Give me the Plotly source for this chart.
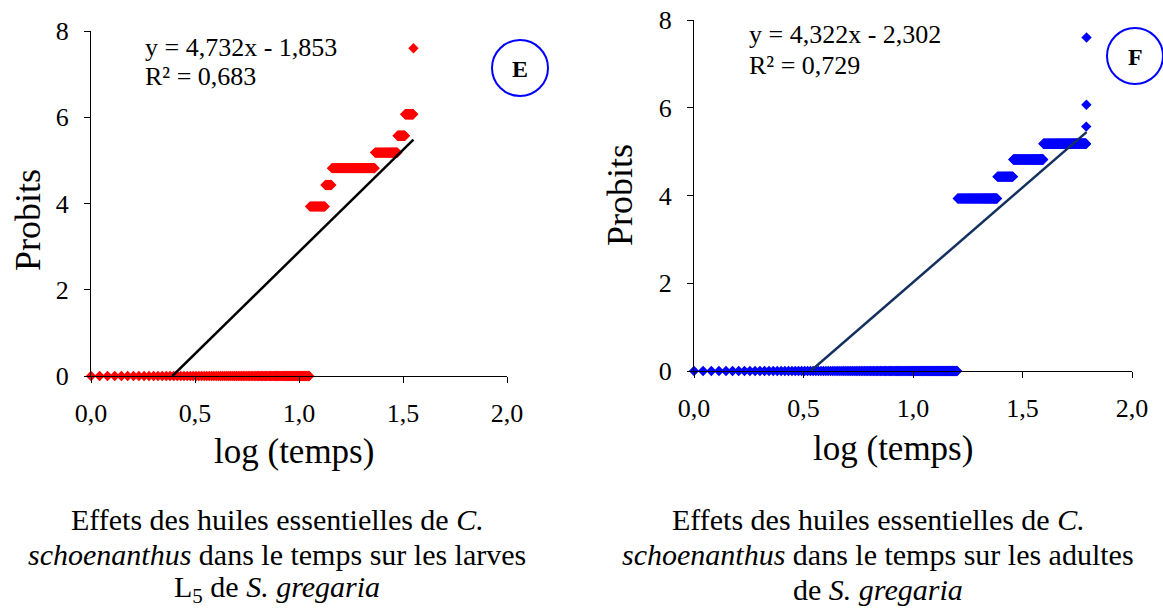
import numpy as np
import plotly.graph_objects as go

# ---- Data ----
# Panel E: runs of observations recorded every 0.1 time unit, with their probit level
E_run_start = [1.0, 11.3, 13.4, 14.4, 23.2, 29.8, 32.4, 35.5]
E_run_end   = [11.2, 13.3, 14.3, 23.1, 29.7, 32.3, 35.4, 35.5]
E_probit    = [0.0, 3.93, 4.43, 4.82, 5.18, 5.57, 6.07, 7.6]
E_slope, E_intercept, E_r2 = 4.732, -1.853, 0.683

# Panel F
F_run_start = [1.0, 16.0, 24.3, 28.7, 39.4, 61.8, 61.9, 62.0]
F_run_end   = [15.9, 24.2, 28.6, 39.3, 61.7, 61.8, 61.9, 62.0]
F_probit    = [0.0, 3.93, 4.43, 4.82, 5.18, 5.57, 6.07, 7.6]
F_slope, F_intercept, F_r2 = 4.322, -2.302, 0.729

time_step = 0.1
x_ticks = [0.0, 0.5, 1.0, 1.5, 2.0]
x_tick_labels = ["0,0", "0,5", "1,0", "1,5", "2,0"]
y_ticks = [0, 2, 4, 6, 8]

caption_E = ["Effets des huiles essentielles de <i>C.</i>",
             "<i>schoenanthus</i> dans le temps sur les larves",
             "L<sub>5</sub> de <i>S. gregaria</i>"]
caption_F = ["Effets des huiles essentielles de <i>C.</i>",
             "<i>schoenanthus</i> dans le temps sur les adultes",
             "de <i>S. gregaria</i>"]


def expand(starts, ends, levels):
    t, p = [], []
    for s, e, lv in zip(starts, ends, levels):
        n = int(round((e - s) / time_step)) + 1
        tt = s + time_step * np.arange(n)
        t.extend(tt.tolist())
        p.extend([lv] * n)
    return np.log10(np.array(t)), np.array(p)


FONT = "Times New Roman, Liberation Serif, serif"
W, H = 1163, 610


def px(x):
    return x / W


def py(y):
    return (H - y) / H


fig = go.Figure()

panels = [
    dict(xs=E_run_start, xe=E_run_end, pr=E_probit, a=E_slope, b=E_intercept, r2=E_r2,
         color="#FF0000", line="#000000", xa="x", ya="y",
         dom_x=[91, 507], dom_y=[376, 31], letter="E", circ=(520, 68),
         eq_pos=(143, 47), cap=caption_E, cap_x=277, ytitle=(28, 220), xtitle=(294, 451)),
    dict(xs=F_run_start, xe=F_run_end, pr=F_probit, a=F_slope, b=F_intercept, r2=F_r2,
         color="#0000FF", line="#14305E", xa="x2", ya="y2",
         dom_x=[694, 1132], dom_y=[371, 20], letter="F", circ=(1135, 56),
         eq_pos=(747, 35), cap=caption_F, cap_x=878, ytitle=(620, 195), xtitle=(893, 448)),
]

shapes = []
annotations = []
for i, p in enumerate(panels):
    lx, pv = expand(p["xs"], p["xe"], p["pr"])
    fig.add_trace(go.Scatter(x=lx, y=pv, mode="markers", xaxis=p["xa"], yaxis=p["ya"],
                             marker=dict(symbol="diamond", size=8, color=p["color"], line=dict(width=0)),
                             cliponaxis=False, showlegend=False))
    x0 = max(0.0, -p["b"] / p["a"])
    x1 = float(lx.max())
    fig.add_trace(go.Scatter(x=[x0, x1], y=[p["a"] * x0 + p["b"], p["a"] * x1 + p["b"]],
                             mode="lines", xaxis=p["xa"], yaxis=p["ya"],
                             line=dict(color=p["line"], width=2.5), showlegend=False))
    sfx = "" if i == 0 else "2"
    axx = dict(domain=[px(p["dom_x"][0]), px(p["dom_x"][1])], range=[0, 2],
               tickvals=x_ticks, ticktext=x_tick_labels, showgrid=False, zeroline=False,
               showline=True, linecolor="black", linewidth=1, ticks="outside", ticklen=6,
               tickcolor="black", tickfont=dict(family=FONT, size=26, color="black"),
               anchor="y" + sfx, ticklabelstandoff=8, automargin=False)
    axy = dict(domain=[py(p["dom_y"][0]), py(p["dom_y"][1])], range=[0, 8],
               tickvals=y_ticks, showgrid=False, zeroline=False,
               showline=True, linecolor="black", linewidth=1, ticks="outside", ticklen=6,
               tickcolor="black", tickfont=dict(family=FONT, size=26, color="black"),
               anchor="x" + sfx, ticklabelstandoff=10, automargin=False)
    fig.update_layout(**{"xaxis" + sfx: axx, "yaxis" + sfx: axy})

    a_txt = f"{p['a']:.3f}".replace(".", ",")
    b_txt = f"{abs(p['b']):.3f}".replace(".", ",")
    r_txt = f"{p['r2']:.3f}".replace(".", ",")
    annotations.append(dict(x=px(p["eq_pos"][0]), y=py(p["eq_pos"][1]), xref="paper", yref="paper",
                            xanchor="left", yanchor="middle", showarrow=False,
                            text=f"y = {a_txt}x - {b_txt}", font=dict(family=FONT, size=26, color="black")))
    annotations.append(dict(x=px(p["eq_pos"][0]), y=py(p["eq_pos"][1] + 30), xref="paper", yref="paper",
                            xanchor="left", yanchor="middle", showarrow=False,
                            text=f"R² = {r_txt}", font=dict(family=FONT, size=26, color="black")))
    cx, cy = p["circ"]
    shapes.append(dict(type="circle", xref="paper", yref="paper",
                       x0=px(cx - 28), x1=px(cx + 28), y0=py(cy + 28), y1=py(cy - 28),
                       line=dict(color="#0000FF", width=2)))
    annotations.append(dict(x=px(cx), y=py(cy + 1), xref="paper", yref="paper", showarrow=False,
                            xanchor="center", yanchor="middle",
                            text=f"<b>{p['letter']}</b>", font=dict(family=FONT, size=24, color="black")))
    annotations.append(dict(x=px(p["ytitle"][0]), y=py(p["ytitle"][1]), xref="paper", yref="paper",
                            showarrow=False, textangle=-90, xanchor="center", yanchor="middle",
                            text="Probits", font=dict(family=FONT, size=36, color="black")))
    annotations.append(dict(x=px(p["xtitle"][0]), y=py(p["xtitle"][1]), xref="paper", yref="paper",
                            showarrow=False, xanchor="center", yanchor="middle",
                            text="log (temps)", font=dict(family=FONT, size=35, color="black")))
    for k, line in enumerate(p["cap"]):
        annotations.append(dict(x=px(p["cap_x"]), y=py(519 + 35 * k), xref="paper", yref="paper",
                                showarrow=False, xanchor="center", yanchor="middle", align="center",
                                text=line, font=dict(family=FONT, size=30, color="black")))

fig.update_layout(width=W, height=H, margin=dict(l=0, r=0, t=0, b=0),
                  paper_bgcolor="white", plot_bgcolor="white",
                  shapes=shapes, annotations=annotations, showlegend=False)

fig.write_html("out.html")
